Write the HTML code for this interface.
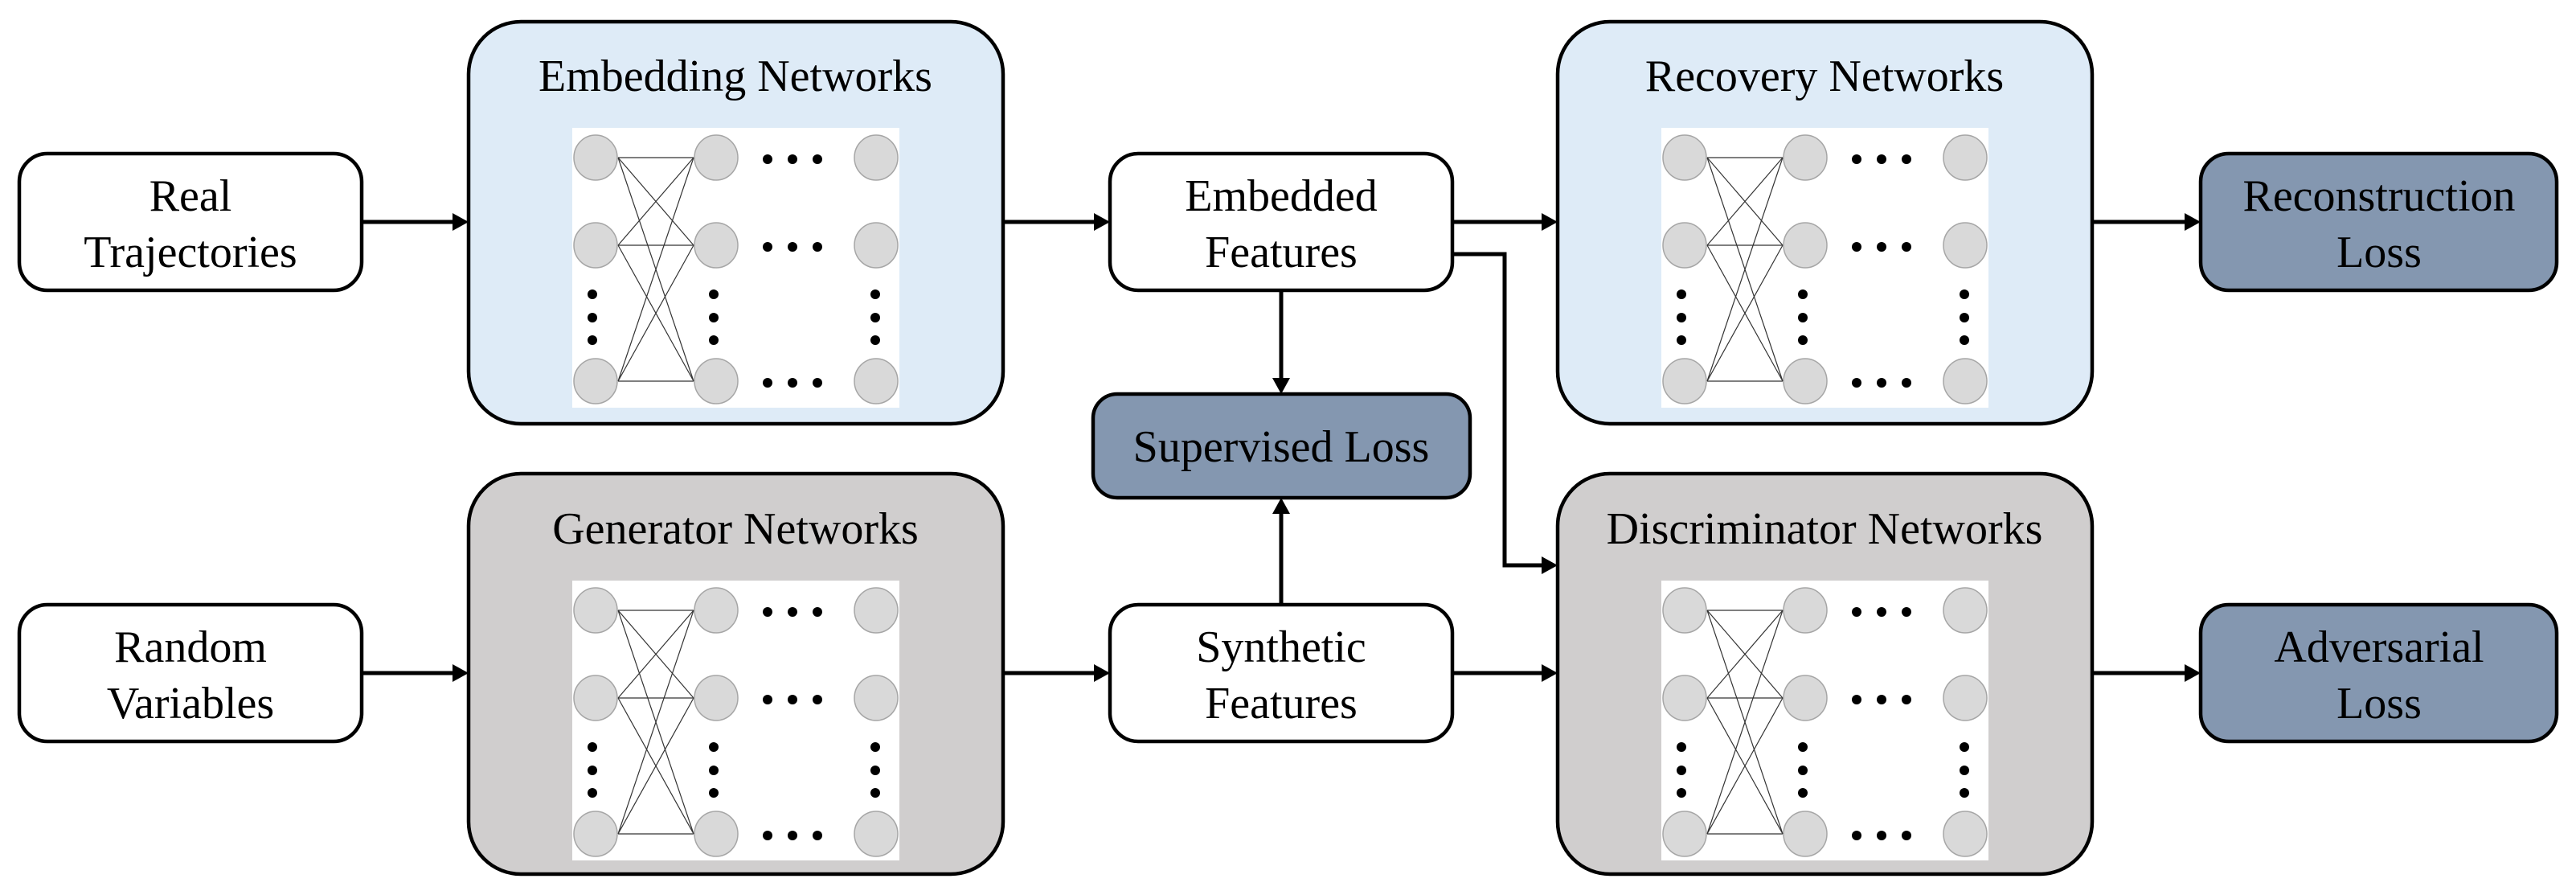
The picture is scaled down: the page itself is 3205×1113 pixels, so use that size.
<!DOCTYPE html>
<html><head><meta charset="utf-8"><style>html,body{margin:0;padding:0;background:#fff}svg{display:block}
svg text{font-family:"Liberation Serif","Times New Roman",Times,serif;font-size:56px;text-anchor:middle}</style></head>
<body>
<svg width="3205" height="1113" viewBox="0 0 3205 1113" xmlns="http://www.w3.org/2000/svg">
<defs>
<g id="net">
<rect x="130" y="133" width="407" height="348" fill="#fff"/>
<g stroke="#333" stroke-width="1.2">
<line x1="187" y1="170" x2="281" y2="170"/><line x1="187" y1="170" x2="281" y2="279"/><line x1="187" y1="170" x2="281" y2="448"/>
<line x1="187" y1="279" x2="281" y2="170"/><line x1="187" y1="279" x2="281" y2="279"/><line x1="187" y1="279" x2="281" y2="448"/>
<line x1="187" y1="448" x2="281" y2="170"/><line x1="187" y1="448" x2="281" y2="279"/><line x1="187" y1="448" x2="281" y2="448"/>
</g>
<g fill="#d9d9d9" stroke="#a6a6a6" stroke-width="1.5">
<ellipse cx="159" cy="170" rx="27" ry="28"/><ellipse cx="159" cy="279" rx="27" ry="28"/><ellipse cx="159" cy="448" rx="27" ry="28"/>
<ellipse cx="309" cy="170" rx="27" ry="28"/><ellipse cx="309" cy="279" rx="27" ry="28"/><ellipse cx="309" cy="448" rx="27" ry="28"/>
<ellipse cx="508" cy="170" rx="27" ry="28"/><ellipse cx="508" cy="279" rx="27" ry="28"/><ellipse cx="508" cy="448" rx="27" ry="28"/>
</g>
<g fill="#000">
<circle cx="155" cy="340" r="6"/><circle cx="155" cy="369" r="6"/><circle cx="155" cy="397" r="6"/>
<circle cx="306" cy="340" r="6"/><circle cx="306" cy="369" r="6"/><circle cx="306" cy="397" r="6"/>
<circle cx="507" cy="340" r="6"/><circle cx="507" cy="369" r="6"/><circle cx="507" cy="397" r="6"/>
<circle cx="373" cy="172" r="6"/><circle cx="404" cy="172" r="6"/><circle cx="435" cy="172" r="6"/>
<circle cx="373" cy="281" r="6"/><circle cx="404" cy="281" r="6"/><circle cx="435" cy="281" r="6"/>
<circle cx="373" cy="450" r="6"/><circle cx="404" cy="450" r="6"/><circle cx="435" cy="450" r="6"/>
</g>
</g>
</defs>

<rect x="583" y="27" width="665" height="500" rx="65" fill="#deebf7" stroke="#000" stroke-width="4.5"/>
<rect x="1938" y="27" width="665" height="500" rx="65" fill="#deebf7" stroke="#000" stroke-width="4.5"/>
<rect x="583" y="589" width="665" height="498" rx="65" fill="#d0cece" stroke="#000" stroke-width="4.5"/>
<rect x="1938" y="589" width="665" height="498" rx="65" fill="#d0cece" stroke="#000" stroke-width="4.5"/>
<use href="#net" x="582" y="26"/>
<use href="#net" x="1937" y="26"/>
<use href="#net" x="582" y="589"/>
<use href="#net" x="1937" y="589"/>
<text x="915" y="113">Embedding Networks</text>
<text x="2270" y="113">Recovery Networks</text>
<text x="915" y="676">Generator Networks</text>
<text x="2270" y="676">Discriminator Networks</text>

<rect x="24" y="191" width="426" height="170" rx="35" fill="#fff" stroke="#000" stroke-width="4.5"/>
<text x="237" y="262">Real</text><text x="237" y="332">Trajectories</text>
<rect x="24" y="752" width="426" height="170" rx="35" fill="#fff" stroke="#000" stroke-width="4.5"/>
<text x="237" y="823">Random</text><text x="237" y="893">Variables</text>
<rect x="1381" y="191" width="426" height="170" rx="35" fill="#fff" stroke="#000" stroke-width="4.5"/>
<text x="1594" y="262">Embedded</text><text x="1594" y="332">Features</text>
<rect x="1381" y="752" width="426" height="170" rx="35" fill="#fff" stroke="#000" stroke-width="4.5"/>
<text x="1594" y="823">Synthetic</text><text x="1594" y="893">Features</text>
<rect x="1360" y="490" width="469" height="129" rx="30" fill="#8497b0" stroke="#000" stroke-width="4.5"/>
<text x="1594" y="574">Supervised Loss</text>
<rect x="2738" y="191" width="443" height="170" rx="35" fill="#8497b0" stroke="#000" stroke-width="4.5"/>
<text x="2960" y="262">Reconstruction</text><text x="2960" y="332">Loss</text>
<rect x="2738" y="752" width="443" height="170" rx="35" fill="#8497b0" stroke="#000" stroke-width="4.5"/>
<text x="2960" y="823">Adversarial</text><text x="2960" y="893">Loss</text>

<g stroke="#000" stroke-width="5" fill="none">
<line x1="450" y1="276" x2="564" y2="276"/>
<line x1="450" y1="837" x2="564" y2="837"/>
<line x1="1248" y1="276" x2="1362" y2="276"/>
<line x1="1248" y1="837" x2="1362" y2="837"/>
<line x1="1807" y1="276" x2="1919" y2="276"/>
<line x1="1807" y1="837" x2="1919" y2="837"/>
<line x1="2603" y1="276" x2="2720" y2="276"/>
<line x1="2603" y1="837" x2="2720" y2="837"/>
<polyline points="1807,316 1872,316 1872,703 1919,703"/>
<line x1="1594" y1="361" x2="1594" y2="471"/>
<line x1="1594" y1="752" x2="1594" y2="637"/>
</g>
<g fill="#000">
<polygon points="563,265 583,276 563,287"/>
<polygon points="563,826 583,837 563,848"/>
<polygon points="1361,265 1381,276 1361,287"/>
<polygon points="1361,826 1381,837 1361,848"/>
<polygon points="1918,265 1938,276 1918,287"/>
<polygon points="1918,826 1938,837 1918,848"/>
<polygon points="2718,265 2738,276 2718,287"/>
<polygon points="2718,826 2738,837 2718,848"/>
<polygon points="1918,692 1938,703 1918,714"/>
<polygon points="1583,470 1594,490 1605,470"/>
<polygon points="1583,639 1594,619 1605,639"/>
</g>
</svg>
</body></html>
